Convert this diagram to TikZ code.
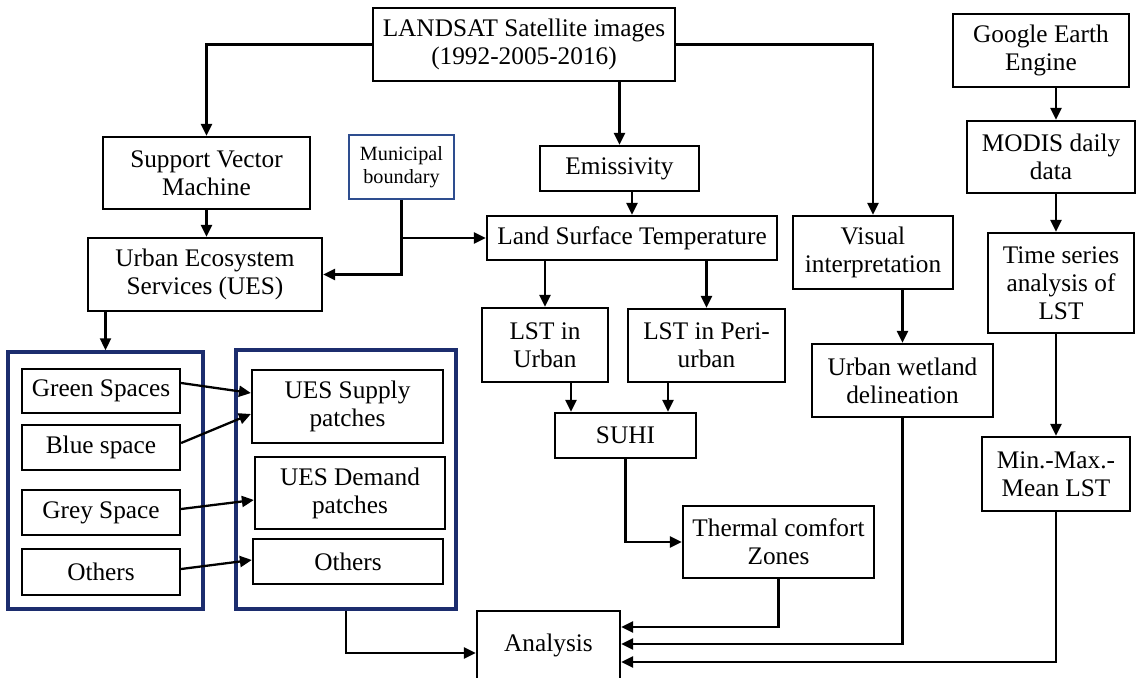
\documentclass[tikz,border=0pt]{standalone}
\usepackage{fontspec}
\setmainfont{Liberation Serif}
\usetikzlibrary{arrows.meta,positioning,calc}
\definecolor{grpNavy}{HTML}{1C2D6E}
\definecolor{muniBlue}{HTML}{2E4D8F}

\begin{document}
\begin{tikzpicture}[
  x=0.02cm, y=-0.02cm,
  font=\fontsize{14.4}{16}\selectfont,
  stepbox/.style={draw,line width=1.3pt,fill=white,align=center,inner sep=2pt},
  grpbox/.style={draw=grpNavy,line width=2pt,inner sep=0pt},
  flow/.style={-{Triangle[length=2.4mm,width=2.2mm]},line width=1.3pt}]
  \useasboundingbox (0,0) rectangle (1137,678);
  \node[stepbox,minimum width=6.04cm,minimum height=1.46cm] (landsat) at (524,44.5) {LANDSAT Satellite images\\(1992-2005-2016)};
  \node[stepbox,minimum width=3.52cm,minimum height=1.46cm] (gee) at (1041,50.5) {Google Earth\\Engine};
  \node[stepbox,minimum width=4.14cm,minimum height=1.44cm] (svm) at (206.5,173) {Support Vector\\Machine};
  \node[stepbox,draw=muniBlue,line width=0.9pt,minimum width=2.1cm,minimum height=1.28cm,font=\fontsize{11.5}{13}\selectfont] (muni) at (401.5,167) {Municipal\\boundary};
  \node[stepbox,minimum width=3.18cm,minimum height=0.9cm] (emis) at (619.5,168.5) {Emissivity};
  \node[stepbox,minimum width=3.36cm,minimum height=1.44cm] (modis) at (1051,157) {MODIS daily\\data};
  \node[stepbox,minimum width=4.68cm,minimum height=1.46cm] (ues) at (205,274.5) {Urban Ecosystem\\Services (UES)};
  \node[stepbox,minimum width=5.8cm,minimum height=0.88cm] (lst) at (632,238) {Land Surface Temperature};
  \node[stepbox,minimum width=3.2cm,minimum height=1.46cm] (visual) at (873,252.5) {Visual\\interpretation};
  \node[stepbox,minimum width=2.92cm,minimum height=2cm] (timeser) at (1061,283) {Time series\\analysis of\\LST};
  \node[stepbox,minimum width=2.52cm,minimum height=1.48cm] (lsturban) at (545,345) {LST in\\Urban};
  \node[stepbox,minimum width=3.14cm,minimum height=1.46cm] (lstperi) at (706.5,345.5) {LST in Peri-\\urban};
  \node[stepbox,minimum width=2.82cm,minimum height=0.9cm] (suhi) at (625.5,435.5) {SUHI};
  \node[stepbox,minimum width=3.62cm,minimum height=1.46cm] (wetland) at (902.5,380.5) {Urban wetland\\delineation};
  \node[stepbox,minimum width=2.96cm,minimum height=1.48cm] (minmax) at (1056,474) {Min.-Max.-\\Mean LST};
  \node[stepbox,minimum width=3.82cm,minimum height=1.44cm] (thermal) at (778.5,542) {Thermal comfort\\Zones};
  \node[stepbox,minimum width=2.86cm,minimum height=1.36cm] (analysis) at (548.5,645) {Analysis};
  \node[grpbox,minimum width=3.9cm,minimum height=5.14cm] (grpL) at (105.5,480.5) {};
  \node[grpbox,minimum width=4.4cm,minimum height=5.18cm] (grpR) at (346,479.5) {};
  \node[stepbox,minimum width=3.16cm,minimum height=0.88cm] (green) at (101,391) {Green Spaces};
  \node[stepbox,minimum width=3.16cm,minimum height=0.9cm] (blue) at (101,447.5) {Blue space};
  \node[stepbox,minimum width=3.16cm,minimum height=0.9cm] (grey) at (101,512.5) {Grey Space};
  \node[stepbox,minimum width=3.16cm,minimum height=0.92cm] (othersL) at (101,572) {Others};
  \node[stepbox,minimum width=3.82cm,minimum height=1.46cm] (supply) at (347.5,406.5) {UES Supply\\patches};
  \node[stepbox,minimum width=3.8cm,minimum height=1.44cm] (demand) at (350,493) {UES Demand\\patches};
  \node[stepbox,minimum width=3.8cm,minimum height=0.9cm] (othersR) at (348,561.5) {Others};
  \coordinate (suhiL) at ([xshift=-1.09cm]suhi.north);
  \coordinate (suhiR) at ([xshift=0.85cm]suhi.north);
  \coordinate (inA) at ([yshift=0.36cm]analysis.east);
  \coordinate (inB) at ([yshift=0.02cm]analysis.east);
  \coordinate (inC) at ([yshift=-0.34cm]analysis.east);
  \coordinate (inD) at ([yshift=-0.16cm]analysis.west);
  \draw[flow] (landsat.west) -| (svm);
  \draw[flow] (landsat.east) -| (visual);
  \draw[flow] (landsat.south -| emis) -- (emis);
  \draw[flow] (emis.south -| lst) -- (lst);
  \draw[flow] (svm.south) -- (svm.south |- ues.north);
  \draw[flow] (muni) |- (ues);
  \draw[flow] (muni.south |- lst) -- (lst);
  \draw[flow] (ues.south -| grpL) -- (grpL);
  \draw[flow] (lst.south -| lsturban) -- (lsturban);
  \draw[flow] (lst.south -| lstperi) -- (lstperi);
  \draw[flow] (suhiL |- lsturban.south) -- (suhiL);
  \draw[flow] (suhiR |- lstperi.south) -- (suhiR);
  \draw[flow] (suhi) |- (thermal);
  \draw[flow] (visual.south -| wetland) -- (wetland);
  \draw[flow] (gee.south -| minmax) -- (modis.north -| minmax);
  \draw[flow] (modis.south -| minmax) -- (timeser.north -| minmax);
  \draw[flow] (timeser.south -| minmax) -- (minmax);
  \draw[flow] ([yshift=0.16cm]green.east) -- ([yshift=0.27cm]supply.west);
  \draw[flow] ([yshift=0.09cm]blue.east) -- ([yshift=-0.15cm]supply.west);
  \draw[flow] ([yshift=0.07cm]grey.east) -- ([yshift=-0.14cm]demand.west);
  \draw[flow] ([yshift=0.06cm]othersL.east) -- ([yshift=0.03cm]othersR.west);
  \draw[flow] (thermal) |- (inA);
  \draw[flow] (wetland) |- (inB);
  \draw[flow] (minmax) |- (inC);
  \draw[flow] (grpR) |- (inD);
\end{tikzpicture}
\end{document}
